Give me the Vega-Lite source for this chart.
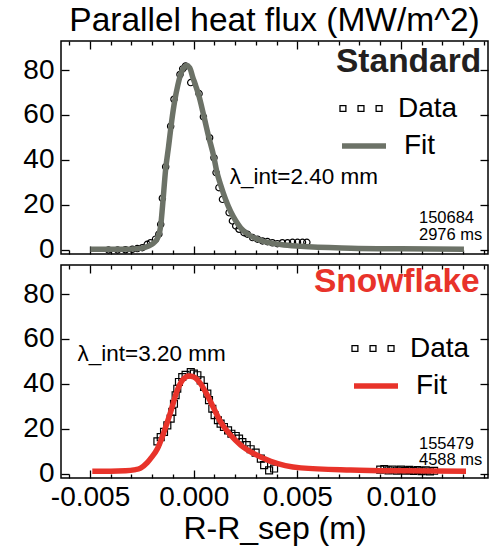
{
  "$schema": "https://vega.github.io/schema/vega-lite/v6.json",
  "padding": {"left": 22, "top": 3, "right": 8, "bottom": 4},
  "background": "white",
  "config": {
    "font": "Liberation Sans",
    "view": {"stroke": "black", "strokeWidth": 1.5},
    "axis": {"labelColor": "black", "tickColor": "black", "tickWidth": 1.3, "grid": false, "domain": false, "labelFont": "Liberation Sans", "titleFont": "Liberation Sans", "titleColor": "black", "minExtent": 0, "offset": 0},
    "legend": {"labelFont": "Liberation Sans", "titleFont": "Liberation Sans", "labelColor": "black", "padding": 0, "labelFontSize": 28, "labelOffset": 15, "orient": "none"}
  },
  "datasets": {
    "standard": [
      {"x": -0.00411, "y": 0.0, "series": "Data"},
      {"x": -0.00367, "y": 0.0, "series": "Data"},
      {"x": -0.00329, "y": 0.1, "series": "Data"},
      {"x": -0.00296, "y": 0.3, "series": "Data"},
      {"x": -0.00272, "y": 0.6, "series": "Data"},
      {"x": -0.00248, "y": 1.0, "series": "Data"},
      {"x": -0.00224, "y": 2.5, "series": "Data"},
      {"x": -0.00208, "y": 3.2, "series": "Data"},
      {"x": -0.00184, "y": 4.8, "series": "Data"},
      {"x": -0.00168, "y": 7.0, "series": "Data"},
      {"x": -0.00159, "y": 11.4, "series": "Data"},
      {"x": -0.00151, "y": 23.0, "series": "Data"},
      {"x": -0.00135, "y": 37.0, "series": "Data"},
      {"x": -0.00111, "y": 55.0, "series": "Data"},
      {"x": -0.00095, "y": 67.0, "series": "Data"},
      {"x": -0.00066, "y": 78.0, "series": "Data"},
      {"x": -0.00053, "y": 80.5, "series": "Data"},
      {"x": -0.00039, "y": 81.8, "series": "Data"},
      {"x": -0.00014, "y": 74.4, "series": "Data"},
      {"x": 0.00026, "y": 69.5, "series": "Data"},
      {"x": 0.00047, "y": 59.2, "series": "Data"},
      {"x": 0.00077, "y": 49.9, "series": "Data"},
      {"x": 0.00098, "y": 41.0, "series": "Data"},
      {"x": 0.00108, "y": 34.4, "series": "Data"},
      {"x": 0.00122, "y": 27.7, "series": "Data"},
      {"x": 0.00139, "y": 22.5, "series": "Data"},
      {"x": 0.00171, "y": 16.6, "series": "Data"},
      {"x": 0.00187, "y": 12.9, "series": "Data"},
      {"x": 0.00203, "y": 10.7, "series": "Data"},
      {"x": 0.00219, "y": 9.2, "series": "Data"},
      {"x": 0.00243, "y": 7.7, "series": "Data"},
      {"x": 0.00259, "y": 7.0, "series": "Data"},
      {"x": 0.00284, "y": 5.5, "series": "Data"},
      {"x": 0.00308, "y": 4.8, "series": "Data"},
      {"x": 0.00332, "y": 4.0, "series": "Data"},
      {"x": 0.00356, "y": 3.7, "series": "Data"},
      {"x": 0.0038, "y": 3.2, "series": "Data"},
      {"x": 0.00404, "y": 2.8, "series": "Data"},
      {"x": 0.00428, "y": 3.2, "series": "Data"},
      {"x": 0.00453, "y": 3.2, "series": "Data"},
      {"x": 0.00477, "y": 3.4, "series": "Data"},
      {"x": 0.00501, "y": 3.4, "series": "Data"},
      {"x": 0.00525, "y": 3.4, "series": "Data"},
      {"x": 0.00546, "y": 3.4, "series": "Data"},
      {"x": -0.00498, "y": 0.3, "series": "Fit"},
      {"x": -0.00353, "y": 0.3, "series": "Fit"},
      {"x": -0.00256, "y": 0.7, "series": "Fit"},
      {"x": -0.00217, "y": 1.8, "series": "Fit"},
      {"x": -0.00193, "y": 3.1, "series": "Fit"},
      {"x": -0.00174, "y": 5.3, "series": "Fit"},
      {"x": -0.00159, "y": 10.7, "series": "Fit"},
      {"x": -0.0015, "y": 19.6, "series": "Fit"},
      {"x": -0.00135, "y": 36.0, "series": "Fit"},
      {"x": -0.00121, "y": 46.0, "series": "Fit"},
      {"x": -0.00106, "y": 57.3, "series": "Fit"},
      {"x": -0.00092, "y": 66.0, "series": "Fit"},
      {"x": -0.00077, "y": 73.0, "series": "Fit"},
      {"x": -0.00063, "y": 78.0, "series": "Fit"},
      {"x": -0.00048, "y": 81.0, "series": "Fit"},
      {"x": -0.00034, "y": 82.0, "series": "Fit"},
      {"x": -0.00019, "y": 81.0, "series": "Fit"},
      {"x": -0.00005, "y": 77.0, "series": "Fit"},
      {"x": 0.0001, "y": 73.0, "series": "Fit"},
      {"x": 0.00024, "y": 69.0, "series": "Fit"},
      {"x": 0.00048, "y": 60.0, "series": "Fit"},
      {"x": 0.00072, "y": 50.5, "series": "Fit"},
      {"x": 0.00097, "y": 41.5, "series": "Fit"},
      {"x": 0.00111, "y": 35.0, "series": "Fit"},
      {"x": 0.0013, "y": 29.0, "series": "Fit"},
      {"x": 0.00155, "y": 22.2, "series": "Fit"},
      {"x": 0.00179, "y": 17.0, "series": "Fit"},
      {"x": 0.00203, "y": 13.0, "series": "Fit"},
      {"x": 0.00227, "y": 9.8, "series": "Fit"},
      {"x": 0.00275, "y": 6.2, "series": "Fit"},
      {"x": 0.00324, "y": 4.2, "series": "Fit"},
      {"x": 0.0042, "y": 2.4, "series": "Fit"},
      {"x": 0.00517, "y": 1.6, "series": "Fit"},
      {"x": 0.00758, "y": 0.8, "series": "Fit"},
      {"x": 0.01, "y": 0.5, "series": "Fit"},
      {"x": 0.01304, "y": 0.3, "series": "Fit"}
    ],
    "snowflake": [
      {"x": -0.00175, "y": 14.5, "series": "Data"},
      {"x": -0.00159, "y": 16.4, "series": "Data"},
      {"x": -0.00143, "y": 18.7, "series": "Data"},
      {"x": -0.00127, "y": 21.6, "series": "Data"},
      {"x": -0.00111, "y": 24.6, "series": "Data"},
      {"x": -0.00103, "y": 27.6, "series": "Data"},
      {"x": -0.00095, "y": 31.2, "series": "Data"},
      {"x": -0.00087, "y": 35.0, "series": "Data"},
      {"x": -0.00079, "y": 37.9, "series": "Data"},
      {"x": -0.00071, "y": 40.9, "series": "Data"},
      {"x": -0.00055, "y": 43.1, "series": "Data"},
      {"x": -0.00039, "y": 44.1, "series": "Data"},
      {"x": -0.00014, "y": 45.3, "series": "Data"},
      {"x": 0.00001, "y": 44.6, "series": "Data"},
      {"x": 0.00018, "y": 43.9, "series": "Data"},
      {"x": 0.00034, "y": 41.6, "series": "Data"},
      {"x": 0.0005, "y": 38.7, "series": "Data"},
      {"x": 0.00066, "y": 35.7, "series": "Data"},
      {"x": 0.00074, "y": 32.8, "series": "Data"},
      {"x": 0.0009, "y": 29.0, "series": "Data"},
      {"x": 0.00101, "y": 26.1, "series": "Data"},
      {"x": 0.00117, "y": 23.9, "series": "Data"},
      {"x": 0.0013, "y": 22.4, "series": "Data"},
      {"x": 0.00146, "y": 20.9, "series": "Data"},
      {"x": 0.00166, "y": 19.4, "series": "Data"},
      {"x": 0.00182, "y": 17.9, "series": "Data"},
      {"x": 0.00203, "y": 16.9, "series": "Data"},
      {"x": 0.00219, "y": 15.7, "series": "Data"},
      {"x": 0.00235, "y": 14.2, "series": "Data"},
      {"x": 0.00256, "y": 12.8, "series": "Data"},
      {"x": 0.00275, "y": 11.0, "series": "Data"},
      {"x": 0.00299, "y": 9.5, "series": "Data"},
      {"x": 0.00324, "y": 6.8, "series": "Data"},
      {"x": 0.0034, "y": 3.9, "series": "Data"},
      {"x": 0.00364, "y": 1.6, "series": "Data"},
      {"x": 0.00388, "y": 2.4, "series": "Data"},
      {"x": 0.009, "y": 1.9, "series": "Data"},
      {"x": 0.0092, "y": 2.2, "series": "Data"},
      {"x": 0.0094, "y": 1.6, "series": "Data"},
      {"x": 0.0096, "y": 2.0, "series": "Data"},
      {"x": 0.0098, "y": 1.5, "series": "Data"},
      {"x": 0.01, "y": 1.9, "series": "Data"},
      {"x": 0.0102, "y": 1.4, "series": "Data"},
      {"x": 0.0104, "y": 1.8, "series": "Data"},
      {"x": 0.0106, "y": 1.3, "series": "Data"},
      {"x": 0.0108, "y": 1.7, "series": "Data"},
      {"x": 0.011, "y": 1.2, "series": "Data"},
      {"x": 0.0112, "y": 1.6, "series": "Data"},
      {"x": 0.0114, "y": 1.1, "series": "Data"},
      {"x": 0.0116, "y": 1.4, "series": "Data"},
      {"x": -0.00489, "y": 1.2, "series": "Fit"},
      {"x": -0.004, "y": 1.2, "series": "Fit"},
      {"x": -0.00329, "y": 1.4, "series": "Fit"},
      {"x": -0.00288, "y": 1.8, "series": "Fit"},
      {"x": -0.00256, "y": 2.6, "series": "Fit"},
      {"x": -0.00224, "y": 5.0, "series": "Fit"},
      {"x": -0.00208, "y": 6.8, "series": "Fit"},
      {"x": -0.00175, "y": 11.2, "series": "Fit"},
      {"x": -0.00143, "y": 18.7, "series": "Fit"},
      {"x": -0.00111, "y": 27.6, "series": "Fit"},
      {"x": -0.00079, "y": 37.2, "series": "Fit"},
      {"x": -0.00055, "y": 41.6, "series": "Fit"},
      {"x": -0.00023, "y": 43.6, "series": "Fit"},
      {"x": 0.00001, "y": 43.1, "series": "Fit"},
      {"x": 0.00034, "y": 40.1, "series": "Fit"},
      {"x": 0.00066, "y": 35.0, "series": "Fit"},
      {"x": 0.00098, "y": 29.0, "series": "Fit"},
      {"x": 0.0013, "y": 23.1, "series": "Fit"},
      {"x": 0.00179, "y": 17.2, "series": "Fit"},
      {"x": 0.00227, "y": 12.8, "series": "Fit"},
      {"x": 0.00291, "y": 9.0, "series": "Fit"},
      {"x": 0.00372, "y": 5.6, "series": "Fit"},
      {"x": 0.00517, "y": 2.7, "series": "Fit"},
      {"x": 0.00758, "y": 1.8, "series": "Fit"},
      {"x": 0.01, "y": 1.4, "series": "Fit"},
      {"x": 0.01314, "y": 1.2, "series": "Fit"}
    ]
  },
  "spacing": -3,
  "resolve": {"scale": {"color": "independent"}, "legend": {"color": "independent"}},
  "vconcat": [
    {
      "width": 427,
      "height": 213,
      "title": {"text": "Parallel heat flux (MW/m^2)", "fontSize": 33.5, "fontWeight": "normal", "anchor": "middle", "frame": "group", "offset": 2, "color": "black"},
      "data": {"name": "standard"},
      "resolve": {"axis": {"x": "independent", "y": "independent"}, "scale": {"color": "independent"}, "legend": {"color": "independent"}},
      "layer": [
        {
          "transform": [{"filter": "datum.series === 'Data'"}],
          "mark": {"type": "point", "shape": "circle", "filled": false, "size": 40, "strokeWidth": 1.2, "opacity": 1},
          "encoding": {
            "x": {"field": "x", "type": "quantitative", "scale": {"domain": [-0.0064, 0.0142], "nice": false, "zero": false},
              "axis": {"orient": "bottom", "values": [-0.005, 0, 0.005, 0.01], "tickSize": -8, "labels": false, "title": null}},
            "y": {"field": "y", "type": "quantitative", "scale": {"domain": [-1.8, 92.9], "nice": false, "zero": false},
              "axis": {"orient": "left", "values": [0, 20, 40, 60, 80], "tickSize": -8, "labelFontSize": 28, "labelPadding": 15, "format": "d", "title": null}},
            "color": {"field": "series", "type": "nominal", "scale": {"domain": ["Data"], "range": ["black"]},
              "legend": {"title": "Standard", "orient": "none", "legendX": 275, "legendY": 5, "titleFontSize": 33.5, "titleFontWeight": "bold", "titleColor": "#231f20", "titlePadding": 7,
                "symbolType": "M-1,-0.14H-0.72V0.14H-1Z M-0.14,-0.14H0.14V0.14H-0.14Z M0.72,-0.14H1V0.14H0.72Z", "symbolSize": 1764, "symbolStrokeWidth": 1.3, "symbolFillColor": "transparent", "symbolOffset": 3}}
          }
        },
        {
          "transform": [{"filter": "datum.series === 'Fit'"}],
          "mark": {"type": "line", "strokeWidth": 5.5, "interpolate": "monotone"},
          "encoding": {
            "x": {"field": "x", "type": "quantitative", "scale": {"domain": [-0.0064, 0.0142], "nice": false, "zero": false},
              "axis": {"orient": "top", "values": [-0.005, 0, 0.005, 0.01], "tickSize": -8, "labels": false, "title": null}},
            "y": {"field": "y", "type": "quantitative", "scale": {"domain": [-1.8, 92.9], "nice": false, "zero": false},
              "axis": {"orient": "right", "values": [0, 20, 40, 60, 80], "tickSize": -8, "labels": false, "title": null}},
            "color": {"field": "series", "type": "nominal", "scale": {"domain": ["Fit"], "range": ["#6c7267"]},
              "legend": {"title": null, "orient": "none", "legendX": 275, "legendY": 80, "symbolType": "stroke", "symbolSize": 1936, "symbolStrokeWidth": 5.5, "symbolOffset": 3}}
          }
        },
        {
          "data": {"values": [{"t": "λ_int=2.40 mm"}]},
          "mark": {"type": "text", "align": "left", "baseline": "middle", "fontSize": 22.5, "color": "black"},
          "encoding": {
            "x": {"datum": 0.00174, "type": "quantitative",
              "axis": {"orient": "bottom", "values": [-0.006, -0.004, -0.003, -0.002, -0.001, 0.001, 0.002, 0.003, 0.004, 0.006, 0.007, 0.008, 0.009, 0.011, 0.012, 0.013, 0.014], "tickSize": -4, "labels": false, "title": null}},
            "y": {"datum": 32.4, "type": "quantitative", "axis": null},
            "text": {"field": "t"}
          }
        },
        {
          "data": {"values": [{"t": "150684\n2976 ms"}]},
          "mark": {"type": "text", "align": "left", "baseline": "middle", "fontSize": 16.5, "lineBreak": "\n", "lineHeight": 16.5, "color": "black"},
          "encoding": {
            "x": {"datum": 0.01087, "type": "quantitative",
              "axis": {"orient": "top", "values": [-0.006, -0.004, -0.003, -0.002, -0.001, 0.001, 0.002, 0.003, 0.004, 0.006, 0.007, 0.008, 0.009, 0.011, 0.012, 0.013, 0.014], "tickSize": -4, "labels": false, "title": null}},
            "y": {"datum": 14, "type": "quantitative", "axis": null},
            "text": {"field": "t"}
          }
        }
      ]
    },
    {
      "width": 427,
      "height": 213,
      "data": {"name": "snowflake"},
      "resolve": {"axis": {"x": "independent", "y": "independent"}, "scale": {"color": "independent"}, "legend": {"color": "independent"}},
      "layer": [
        {
          "transform": [{"filter": "datum.series === 'Data'"}],
          "mark": {"type": "point", "shape": "square", "filled": false, "size": 48, "strokeWidth": 1.2, "opacity": 1},
          "encoding": {
            "x": {"field": "x", "type": "quantitative", "scale": {"domain": [-0.0064, 0.0142], "nice": false, "zero": false},
              "axis": {"orient": "bottom", "values": [-0.005, 0, 0.005, 0.01], "tickSize": -8, "labelFontSize": 28, "labelPadding": 13, "labelOverlap": false, "labelFlush": false,
                "labelExpr": "(datum.value < 0 ? '-' : '') + format(abs(datum.value), '.3f')",
                "title": "R-R_sep (m)", "titleFontSize": 32, "titleFontWeight": "normal", "titlePadding": 2}},
            "y": {"field": "y", "type": "quantitative", "scale": {"domain": [-1.8, 92.9], "nice": false, "zero": false},
              "axis": {"orient": "left", "values": [0, 20, 40, 60, 80], "tickSize": -8, "labelFontSize": 28, "labelPadding": 15, "format": "d", "title": null}},
            "color": {"field": "series", "type": "nominal", "scale": {"domain": ["Data"], "range": ["black"]},
              "legend": {"title": "Snowflake", "orient": "none", "legendX": 253, "legendY": 1, "titleFontSize": 33.5, "titleFontWeight": "bold", "titleColor": "#e8332a", "titlePadding": 27,
                "symbolType": "M-1,-0.14H-0.72V0.14H-1Z M-0.14,-0.14H0.14V0.14H-0.14Z M0.72,-0.14H1V0.14H0.72Z", "symbolSize": 1764, "symbolStrokeWidth": 1.3, "symbolFillColor": "transparent", "symbolOffset": 37}}
          }
        },
        {
          "transform": [{"filter": "datum.series === 'Fit'"}],
          "mark": {"type": "line", "strokeWidth": 5.5, "interpolate": "monotone"},
          "encoding": {
            "x": {"field": "x", "type": "quantitative", "scale": {"domain": [-0.0064, 0.0142], "nice": false, "zero": false},
              "axis": {"orient": "top", "values": [-0.005, 0, 0.005, 0.01], "tickSize": -8, "labels": false, "title": null}},
            "y": {"field": "y", "type": "quantitative", "scale": {"domain": [-1.8, 92.9], "nice": false, "zero": false},
              "axis": {"orient": "right", "values": [0, 20, 40, 60, 80], "tickSize": -8, "labels": false, "title": null}},
            "color": {"field": "series", "type": "nominal", "scale": {"domain": ["Fit"], "range": ["#e8332a"]},
              "legend": {"title": null, "orient": "none", "legendX": 253, "legendY": 96, "symbolType": "stroke", "symbolSize": 1936, "symbolStrokeWidth": 5.5, "symbolOffset": 37}}
          }
        },
        {
          "data": {"values": [{"t": "λ_int=3.20 mm"}]},
          "mark": {"type": "text", "align": "left", "baseline": "middle", "fontSize": 22.5, "color": "black"},
          "encoding": {
            "x": {"datum": -0.0056, "type": "quantitative",
              "axis": {"orient": "bottom", "values": [-0.006, -0.004, -0.003, -0.002, -0.001, 0.001, 0.002, 0.003, 0.004, 0.006, 0.007, 0.008, 0.009, 0.011, 0.012, 0.013, 0.014], "tickSize": -4, "labels": false, "title": null}},
            "y": {"datum": 53.3, "type": "quantitative", "axis": null},
            "text": {"field": "t"}
          }
        },
        {
          "data": {"values": [{"t": "155479\n4588 ms"}]},
          "mark": {"type": "text", "align": "left", "baseline": "middle", "fontSize": 16.5, "lineBreak": "\n", "lineHeight": 16.5, "color": "black"},
          "encoding": {
            "x": {"datum": 0.01087, "type": "quantitative",
              "axis": {"orient": "top", "values": [-0.006, -0.004, -0.003, -0.002, -0.001, 0.001, 0.002, 0.003, 0.004, 0.006, 0.007, 0.008, 0.009, 0.011, 0.012, 0.013, 0.014], "tickSize": -4, "labels": false, "title": null}},
            "y": {"datum": 13.5, "type": "quantitative", "axis": null},
            "text": {"field": "t"}
          }
        }
      ]
    }
  ]
}
